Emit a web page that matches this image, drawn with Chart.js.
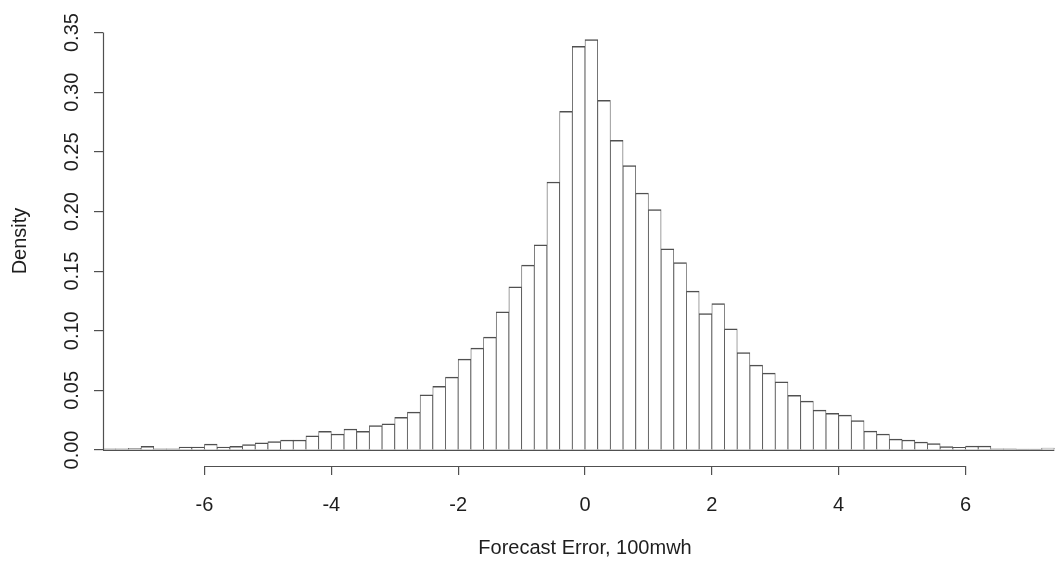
<!DOCTYPE html>
<html>
<head>
<meta charset="utf-8">
<title>Forecast error histogram</title>
<script src="https://cdn.jsdelivr.net/npm/chart.js@4/dist/chart.umd.min.js"></script>
<style>
  html, body { margin: 0; padding: 0; background: #ffffff; }
  #frame { width: 1055px; height: 562px; overflow: hidden; position: relative; }
  #c { display: block; }
</style>
</head>
<body>
<div id="frame"><canvas id="c" width="1067" height="562" style="width:1067px;height:562px"></canvas></div>
<script>
// Histogram of forecast errors: bins of 0.2 starting at -7.6
const binStart = -7.6;
const binWidth = 0.2;

// density of each bin, left to right
const density = [
  0.0010, 0.0010, 0.0015, 0.0030, 0.0010, 0.0010, 0.0025, 0.0025, 0.0050, 0.0025,
  0.0030, 0.0045, 0.0060, 0.0070, 0.0084, 0.0084, 0.0120, 0.0157, 0.0134, 0.0176,
  0.0156, 0.0204, 0.0220, 0.0274, 0.0318, 0.0463, 0.0533, 0.0611, 0.0762, 0.0854,
  0.0946, 0.1158, 0.1368, 0.1550, 0.1720, 0.2247, 0.2840, 0.3384, 0.3442, 0.2931,
  0.2596, 0.2384, 0.2155, 0.2016, 0.1686, 0.1572, 0.1332, 0.1145, 0.1228, 0.1016,
  0.0818, 0.0712, 0.0645, 0.0572, 0.0458, 0.0410, 0.0335, 0.0307, 0.0293, 0.0246,
  0.0159, 0.0134, 0.0092, 0.0084, 0.0067, 0.0053, 0.0028, 0.0022, 0.0034, 0.0034,
  0.0011, 0.0011, 0.0007, 0.0007, 0.0017
];

const xTickValues = [-6, -4, -2, 0, 2, 4, 6];
const xTickLabels = ['-6', '-4', '-2', '0', '2', '4', '6'];
const yTickValues = [0, 0.05, 0.10, 0.15, 0.20, 0.25, 0.30, 0.35];
const yTickLabels = ['0.00', '0.05', '0.10', '0.15', '0.20', '0.25', '0.30', '0.35'];

const xTitle = 'Forecast Error, 100mwh';
const yTitle = 'Density';

// axis limits of the plotting region
const xMin = -7.6, xMax = 7.6;
const yMin = -0.0134, yMax = 0.3639;

const FONT_FAMILY = '"Liberation Sans Narrow", "Liberation Sans", Arial, sans-serif';
const TEXT_COLOR = '#1e1e1e';
const LINE_COLOR = '#505050';
const TICK_FONT = { family: FONT_FAMILY, size: 20 };

const points = density.map((d, i) => ({ x: binStart + binWidth * (i + 0.5), y: d }));

// R-style axes: lines span first to last tick, y labels turned upright,
// plus the shared bottom edge of the histogram cells
const rAxes = {
  id: 'rAxes',
  afterDatasetsDraw(chart) {
    const { ctx, scales } = chart;
    const xs = scales.x, ys = scales.y;
    ctx.save();
    ctx.strokeStyle = LINE_COLOR;
    ctx.lineWidth = 1.3;
    const y0 = ys.getPixelForValue(0) + 0.4;
    ctx.beginPath();
    ctx.moveTo(xs.getPixelForValue(binStart), y0);
    ctx.lineTo(xs.getPixelForValue(binStart + binWidth * density.length), y0);
    ctx.stroke();
    ctx.restore();
  },
  afterDraw(chart) {
    const { ctx, chartArea, scales } = chart;
    const xs = scales.x, ys = scales.y;
    ctx.save();
    ctx.strokeStyle = LINE_COLOR;
    ctx.lineWidth = 1.2;
    const yb = Math.round(chartArea.bottom) + 0.5;
    ctx.beginPath();
    ctx.moveTo(xs.getPixelForValue(xTickValues[0]), yb);
    ctx.lineTo(xs.getPixelForValue(xTickValues[xTickValues.length - 1]), yb);
    ctx.stroke();
    const xl = Math.round(chartArea.left) + 0.5;
    ctx.beginPath();
    ctx.moveTo(xl, ys.getPixelForValue(yTickValues[0]));
    ctx.lineTo(xl, ys.getPixelForValue(yTickValues[yTickValues.length - 1]));
    ctx.stroke();

    ctx.fillStyle = TEXT_COLOR;
    ctx.font = TICK_FONT.size + 'px ' + FONT_FAMILY;
    ctx.textAlign = 'center';
    ctx.textBaseline = 'middle';
    const labelX = chartArea.left - 31;
    yTickValues.forEach((v, i) => {
      ctx.save();
      ctx.translate(labelX, ys.getPixelForValue(v));
      ctx.rotate(-Math.PI / 2);
      ctx.fillText(yTickLabels[i], 0, 0);
      ctx.restore();
    });
    ctx.restore();
  }
};

new Chart(document.getElementById('c'), {
  type: 'bar',
  data: {
    datasets: [{
      data: points,
      backgroundColor: '#ffffff',
      borderColor: LINE_COLOR,
      borderWidth: { top: 1.5, left: 0.8, right: 0.8, bottom: 0 },
      borderSkipped: false,
      barPercentage: 1,
      categoryPercentage: 1,
      grouped: false
    }]
  },
  options: {
    responsive: false,
    animation: false,
    devicePixelRatio: 1,
    layout: { padding: { top: 16, right: 0, bottom: 0, left: 0 } },
    plugins: { legend: { display: false }, tooltip: { enabled: false } },
    scales: {
      x: {
        type: 'linear',
        min: xMin,
        max: xMax,
        offset: false,
        afterBuildTicks: s => { s.ticks = xTickValues.map(v => ({ value: v })); },
        afterFit: s => { s.height = 96; },
        grid: { display: true, offset: false, drawOnChartArea: false, drawTicks: true, tickLength: 9, color: LINE_COLOR, lineWidth: 1.2 },
        border: { display: false },
        ticks: {
          autoSkip: false, maxRotation: 0, minRotation: 0,
          padding: 18,
          font: TICK_FONT, color: TEXT_COLOR,
          callback: (value, index) => xTickLabels[index]
        },
        title: {
          display: true, text: xTitle,
          font: { family: FONT_FAMILY, size: 20 }, color: TEXT_COLOR,
          padding: { top: 0, bottom: 2 }
        }
      },
      y: {
        type: 'linear',
        min: yMin,
        max: yMax,
        afterBuildTicks: s => { s.ticks = yTickValues.map(v => ({ value: v })); },
        afterFit: s => { s.width = 103; },
        grid: { display: true, drawOnChartArea: false, drawTicks: true, tickLength: 9, color: LINE_COLOR, lineWidth: 1.2 },
        border: { display: false },
        ticks: { display: false },
        title: {
          display: true, text: yTitle,
          font: { family: FONT_FAMILY, size: 20 }, color: TEXT_COLOR,
          padding: { top: 8, bottom: 0 }
        }
      }
    }
  },
  plugins: [rAxes]
});
</script>
</body>
</html>
